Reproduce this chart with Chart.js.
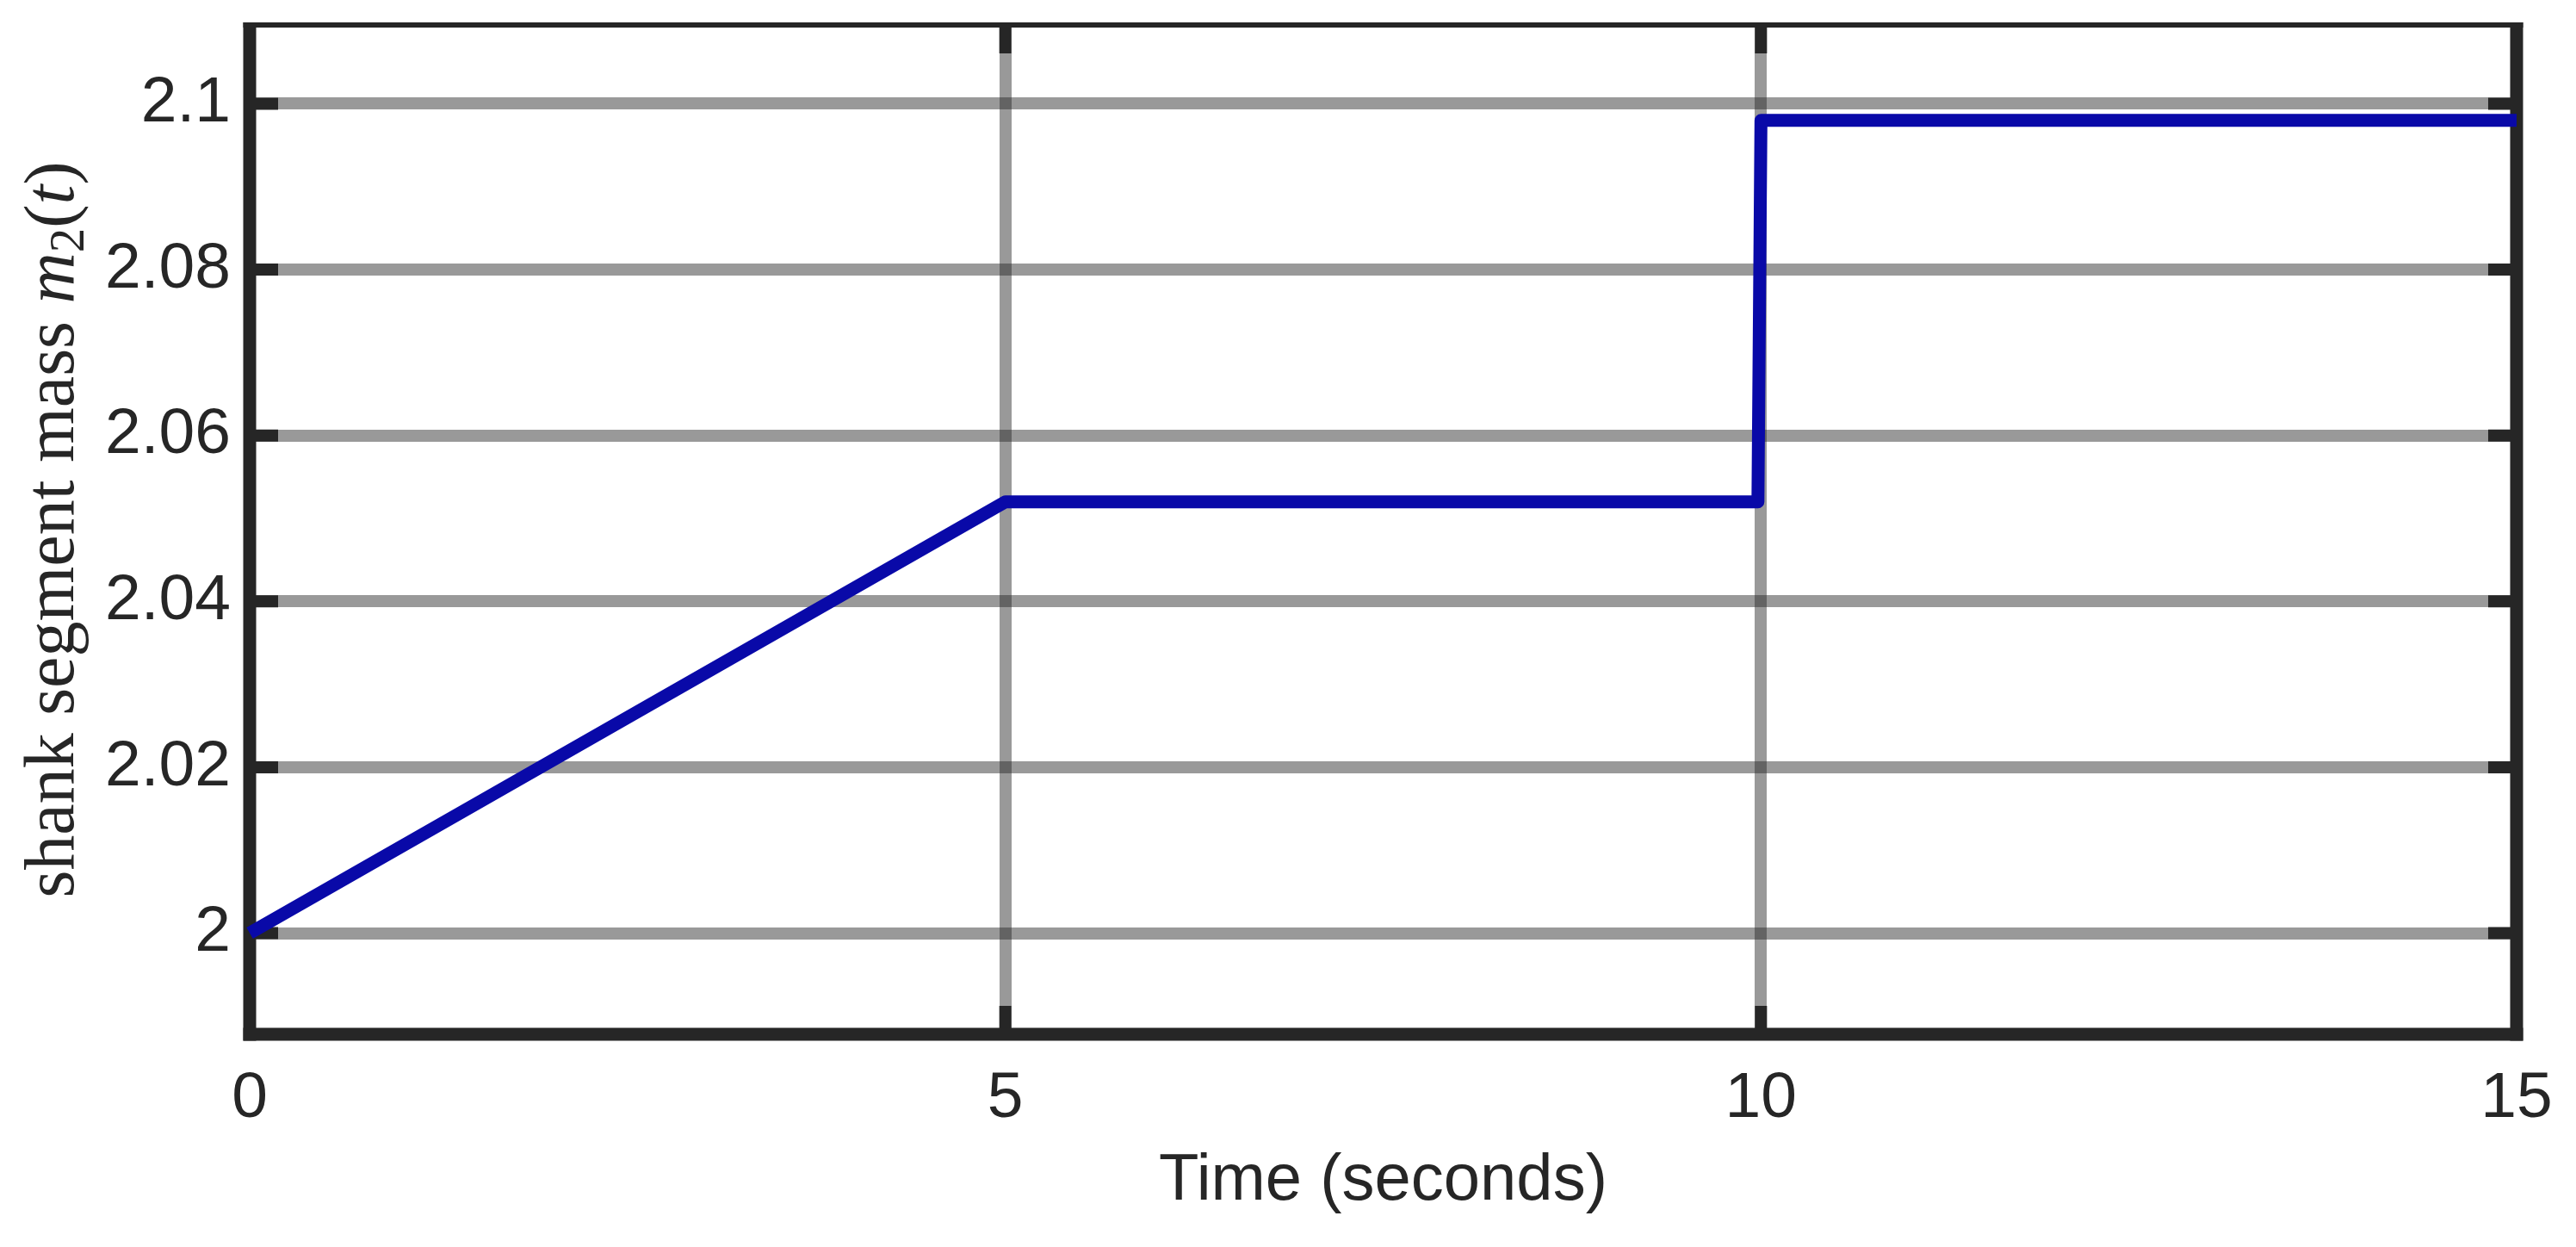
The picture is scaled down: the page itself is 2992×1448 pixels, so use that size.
<!DOCTYPE html>
<html>
<head>
<meta charset="utf-8">
<script src="https://cdn.jsdelivr.net/npm/chart.js@4.4.0/dist/chart.umd.min.js"></script>
<style>
  html, body { margin: 0; padding: 0; background: #fff; }
  canvas { display: block; }
</style>
</head>
<body>
<canvas id="massChart" width="2992" height="1448"></canvas>
<script>
// values
const timeSec = [0, 5, 9.98, 10, 15];
const shankMass = [2.0, 2.052, 2.052, 2.098, 2.098];
const xTicks = [0, 5, 10, 15];
const yTicks = [2, 2.02, 2.04, 2.06, 2.08, 2.1];
const yTickLabels = ['2', '2.02', '2.04', '2.06', '2.08', '2.1'];
const xLimits = [0, 15];
const yLimits = [1.9878, 2.1095];

const axisColor = '#262626';
const gridColor = 'rgba(38,38,38,0.47)';

// MATLAB style box with inward ticks, drawn under the line
const boxPlugin = {
  id: 'matlabBox',
  beforeDatasetsDraw(chart) {
    const {ctx, chartArea: a, scales} = chart;
    const seg = (x1, y1, x2, y2) => {
      ctx.beginPath(); ctx.moveTo(x1, y1); ctx.lineTo(x2, y2); ctx.stroke();
    };
    ctx.save();
    ctx.strokeStyle = axisColor;
    ctx.lineCap = 'butt';
    ctx.lineWidth = 14;
    const tl = 33;
    yTicks.forEach(v => {
      const y = scales.y.getPixelForValue(v);
      seg(a.left, y, a.left + tl, y);
      seg(a.right - tl, y, a.right, y);
    });
    xTicks.forEach(v => {
      const x = scales.x.getPixelForValue(v);
      seg(x, a.top, x, a.top + tl);
      seg(x, a.bottom - tl, x, a.bottom);
    });
    ctx.lineWidth = 15;
    seg(a.left, a.top - 3, a.left, a.bottom + 7.5);
    seg(a.right, a.top - 3, a.right, a.bottom + 7.5);
    seg(a.left - 7.5, a.bottom, a.right + 7.5, a.bottom);
    ctx.lineWidth = 6;
    seg(a.left - 7.5, a.top, a.right + 7.5, a.top);
    ctx.restore();
  },
  // y label with LaTeX-like math part
  afterDraw(chart) {
    const ctx = chart.ctx;
    const a = chart.chartArea;
    const size = 82;
    const parts = [
      ['shank segment mass ', `${size}px "Liberation Serif"`, 0],
      ['m', `italic ${size}px "Liberation Serif"`, 0],
      ['2', `${Math.round(size * 0.7)}px "Liberation Serif"`, size * 0.15],
      ['(', `${size}px "Liberation Serif"`, 0],
      ['t', `italic ${size}px "Liberation Serif"`, 0],
      [')', `${size}px "Liberation Serif"`, 0]
    ];
    ctx.save();
    let total = 0;
    parts.forEach(p => { ctx.font = p[1]; total += ctx.measureText(p[0]).width; });
    ctx.translate(85, (a.top + a.bottom) / 2);
    ctx.rotate(-Math.PI / 2);
    ctx.fillStyle = axisColor;
    ctx.textBaseline = 'alphabetic';
    let x = -total / 2;
    parts.forEach(p => {
      ctx.font = p[1];
      ctx.fillText(p[0], x, p[2]);
      x += ctx.measureText(p[0]).width;
    });
    ctx.restore();
  }
};

Chart.defaults.font.family = '"Liberation Sans", Arial, sans-serif';
Chart.defaults.color = axisColor;

const ctx = document.getElementById('massChart').getContext('2d');
const massChart = new Chart(ctx, {
  type: 'line',
  data: {
    datasets: [{
      data: timeSec.map((t, i) => ({x: t, y: shankMass[i]})),
      borderColor: '#0909a8',
      borderWidth: 15,
      borderJoinStyle: 'round',
      borderCapStyle: 'butt',
      pointRadius: 0,
      tension: 0,
      fill: false,
      clip: false
    }]
  },
  options: {
    responsive: false,
    animation: false,
    devicePixelRatio: 1,
    layout: { padding: { left: 0, right: 69, top: 29, bottom: 0 } },
    plugins: {
      legend: { display: false },
      tooltip: { enabled: false }
    },
    scales: {
      x: {
        type: 'linear',
        min: xLimits[0],
        max: xLimits[1],
        afterBuildTicks: s => { s.ticks = xTicks.map(v => ({value: v})); },
        afterFit: s => { s.height = 247; s.paddingLeft = 0; s.paddingRight = 0; },
        grid: { color: gridColor, lineWidth: 14, drawTicks: false },
        border: { display: false },
        ticks: { font: { size: 75 }, color: axisColor, padding: 30, maxRotation: 0 },
        title: {
          display: true,
          text: 'Time (seconds)',
          font: { size: 76 },
          color: axisColor,
          padding: { top: 0, bottom: 30 }
        }
      },
      y: {
        type: 'linear',
        min: yLimits[0],
        max: yLimits[1],
        afterBuildTicks: s => { s.ticks = yTicks.map(v => ({value: v})); },
        afterFit: s => { s.width = 290; s.paddingTop = 0; s.paddingBottom = 0; },
        grid: { color: gridColor, lineWidth: 14, drawTicks: false },
        border: { display: false },
        ticks: {
          font: { size: 75 },
          color: axisColor,
          padding: 22,
          callback: (v) => yTickLabels[yTicks.indexOf(v)] ?? ''
        }
      }
    }
  },
  plugins: [boxPlugin]
});
</script>
</body>
</html>
